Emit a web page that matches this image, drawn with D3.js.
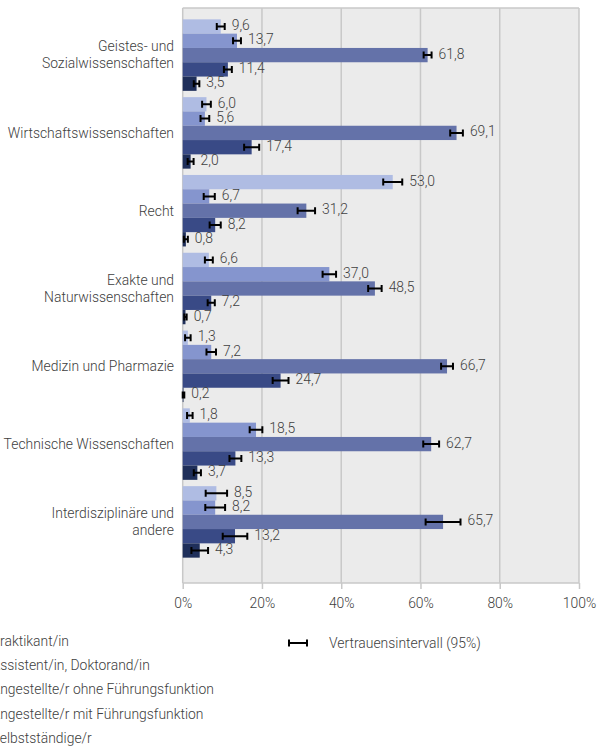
<!DOCTYPE html>
<html>
<head>
<meta charset="utf-8">
<script src="https://cdn.jsdelivr.net/npm/d3@7"></script>
<style>
body { margin: 0; background: #fff; }
text { font-family: Roboto, sans-serif; font-weight: 300; }
</style>
</head>
<body>
<svg id="canvas" width="598" height="747"></svg>
<script>
let categories = ['Geistes- und|Sozialwissenschaften', 'Wirtschaftswissenschaften', 'Recht', 'Exakte und|Naturwissenschaften', 'Medizin und Pharmazie', 'Technische Wissenschaften', 'Interdisziplinäre und|andere']
let seriesNames = ['Praktikant/in', 'Assistent/in, Doktorand/in', 'Angestellte/r ohne Führungsfunktion', 'Angestellte/r mit Führungsfunktion', 'Selbstständige/r']
let colors = ['#afbce3', '#8595ce', '#6472a9', '#394a86', '#1f2f5a']

let praktikant = [9.6, 6.0, 53.0, 6.6, 1.3, 1.8, 8.5]
let assistent = [13.7, 5.6, 6.7, 37.0, 7.2, 18.5, 8.2]
let ohneFuehrung = [61.8, 69.1, 31.2, 48.5, 66.7, 62.7, 65.7]
let mitFuehrung = [11.4, 17.4, 8.2, 7.2, 24.7, 13.3, 13.2]
let selbst = [3.5, 2.0, 0.8, 0.7, 0.2, 3.7, 4.3]

// halbe Breite des Vertrauensintervalls in Prozentpunkten
let errPraktikant = [1.0, 1.1, 2.4, 1.0, 0.7, 0.7, 2.7]
let errAssistent = [1.0, 1.1, 1.4, 1.7, 1.2, 1.6, 2.5]
let errOhne = [1.0, 1.6, 2.2, 1.7, 1.5, 2.0, 4.4]
let errMit = [1.0, 1.9, 1.4, 0.9, 2.0, 1.5, 3.1]
let errSelbst = [0.7, 0.75, 0.5, 0.3, 0.2, 0.9, 2.1]

let xTicks = [0, 20, 40, 60, 80, 100]

let values = [praktikant, assistent, ohneFuehrung, mitFuehrung, selbst]
let errors = [errPraktikant, errAssistent, errOhne, errMit, errSelbst]

let canvas = d3.select('#canvas')
let plotLeft = 182.7, plotRight = 579, plotTop = 8, plotBottom = 583
let fontSize = '13.9px'

let x = d3.scaleLinear().domain([0, 100]).range([plotLeft, plotRight])
let y = d3.scaleBand().domain(categories).range([16.2, 560.8]).paddingInner(0.081).paddingOuter(0.0405)
let ySub = d3.scaleBand().domain(d3.range(5)).range([0, y.bandwidth()])

let fmt = (v) => v.toFixed(1).replace('.', ',')

// Hintergrund
canvas.append('rect')
    .attr('x', plotLeft).attr('y', plotTop)
    .attr('width', plotRight - plotLeft).attr('height', plotBottom - plotTop)
    .attr('fill', '#ebebeb')

canvas.append('g').selectAll('line')
    .data(xTicks)
    .enter()
    .append('line')
    .attr('x1', (d) => x(d)).attr('x2', (d) => x(d))
    .attr('y1', plotTop).attr('y2', plotBottom)
    .attr('stroke', '#c8c8c8')
    .attr('stroke-width', 1.5)

canvas.append('line')
    .attr('x1', plotLeft).attr('x2', plotRight)
    .attr('y1', plotTop).attr('y2', plotTop)
    .attr('stroke', '#c8c8c8').attr('stroke-width', 1.5)
canvas.append('line')
    .attr('x1', plotLeft).attr('x2', plotRight)
    .attr('y1', plotBottom).attr('y2', plotBottom)
    .attr('stroke', '#c8c8c8').attr('stroke-width', 1.5)

let xAxis = canvas.append('g')
    .attr('transform', 'translate(0,' + plotBottom + ')')
    .call(d3.axisBottom(x).tickValues(xTicks).tickFormat((d) => d + '%').tickSize(6).tickPadding(9))
xAxis.select('.domain').remove()
xAxis.selectAll('line').attr('stroke', '#c8c8c8').attr('stroke-width', 1.5)
xAxis.selectAll('text').attr('fill', '#404040').style('font-size', fontSize).style('font-family', 'Roboto, sans-serif').style('font-weight', 300)

// Kategorien
let catLabels = canvas.append('g').selectAll('text')
    .data(categories)
    .enter()
    .append('text')
    .attr('x', 174)
    .attr('y', (d) => y(d) + y.bandwidth() / 2)
    .attr('text-anchor', 'end')
    .attr('fill', '#404040')
    .style('font-size', fontSize)
catLabels.each(function (d) {
    let lines = d.split('|')
    let t = d3.select(this)
    lines.forEach((line, i) => {
        t.append('tspan')
            .attr('x', 174)
            .attr('dy', i === 0 ? (-(lines.length - 1) * 8.5 + 4.8) : 17)
            .text(line)
    })
})

let flat = []
categories.forEach((c, ci) => {
    values.forEach((s, si) => {
        flat.push({ cat: c, s: si, v: s[ci], e: errors[si][ci] })
    })
})

let groups = canvas.append('g').selectAll('g')
    .data(flat)
    .enter()
    .append('g')
    .attr('transform', (d) => 'translate(0,' + (y(d.cat) + ySub(d.s)) + ')')

groups.append('rect')
    .attr('x', plotLeft)
    .attr('y', 0)
    .attr('width', (d) => x(d.v) - plotLeft)
    .attr('height', ySub.bandwidth())
    .attr('fill', (d) => colors[d.s])

let bh = ySub.bandwidth() / 2
groups.append('path')
    .attr('d', (d) => {
        let a = x(Math.max(0, d.v - d.e)), b = x(d.v + d.e)
        return 'M' + a + ',' + bh + 'H' + b +
            'M' + a + ',' + (bh - 3.5) + 'V' + (bh + 3.5) +
            'M' + b + ',' + (bh - 3.5) + 'V' + (bh + 3.5)
    })
    .attr('stroke', '#000')
    .attr('stroke-width', 2)
    .attr('fill', 'none')

groups.append('text')
    .attr('x', (d) => x(d.v + d.e) + 7)
    .attr('y', bh + 3.5)
    .attr('fill', '#404040')
    .style('font-size', fontSize)
    .text((d) => fmt(d.v))

// Legende
let legend = canvas.append('g').selectAll('g')
    .data(seriesNames)
    .enter()
    .append('g')
    .attr('transform', (d, i) => 'translate(0,' + (641 + i * 24.3) + ')')
legend.append('rect')
    .attr('x', -30).attr('y', -6).attr('width', 14).attr('height', 12)
    .attr('fill', (d, i) => colors[i])
legend.append('text')
    .attr('x', -8.5).attr('y', 4.8)
    .attr('fill', '#404040')
    .style('font-size', fontSize)
    .text((d) => d)

canvas.append('path')
    .attr('d', 'M289,643H307M289,639.5V646.5M307,639.5V646.5')
    .attr('stroke', '#000').attr('stroke-width', 2).attr('fill', 'none')
canvas.append('text')
    .attr('x', 329).attr('y', 647.8)
    .attr('fill', '#404040')
    .style('font-size', fontSize)
    .text('Vertrauensintervall (95%)')
</script>
</body>
</html>
